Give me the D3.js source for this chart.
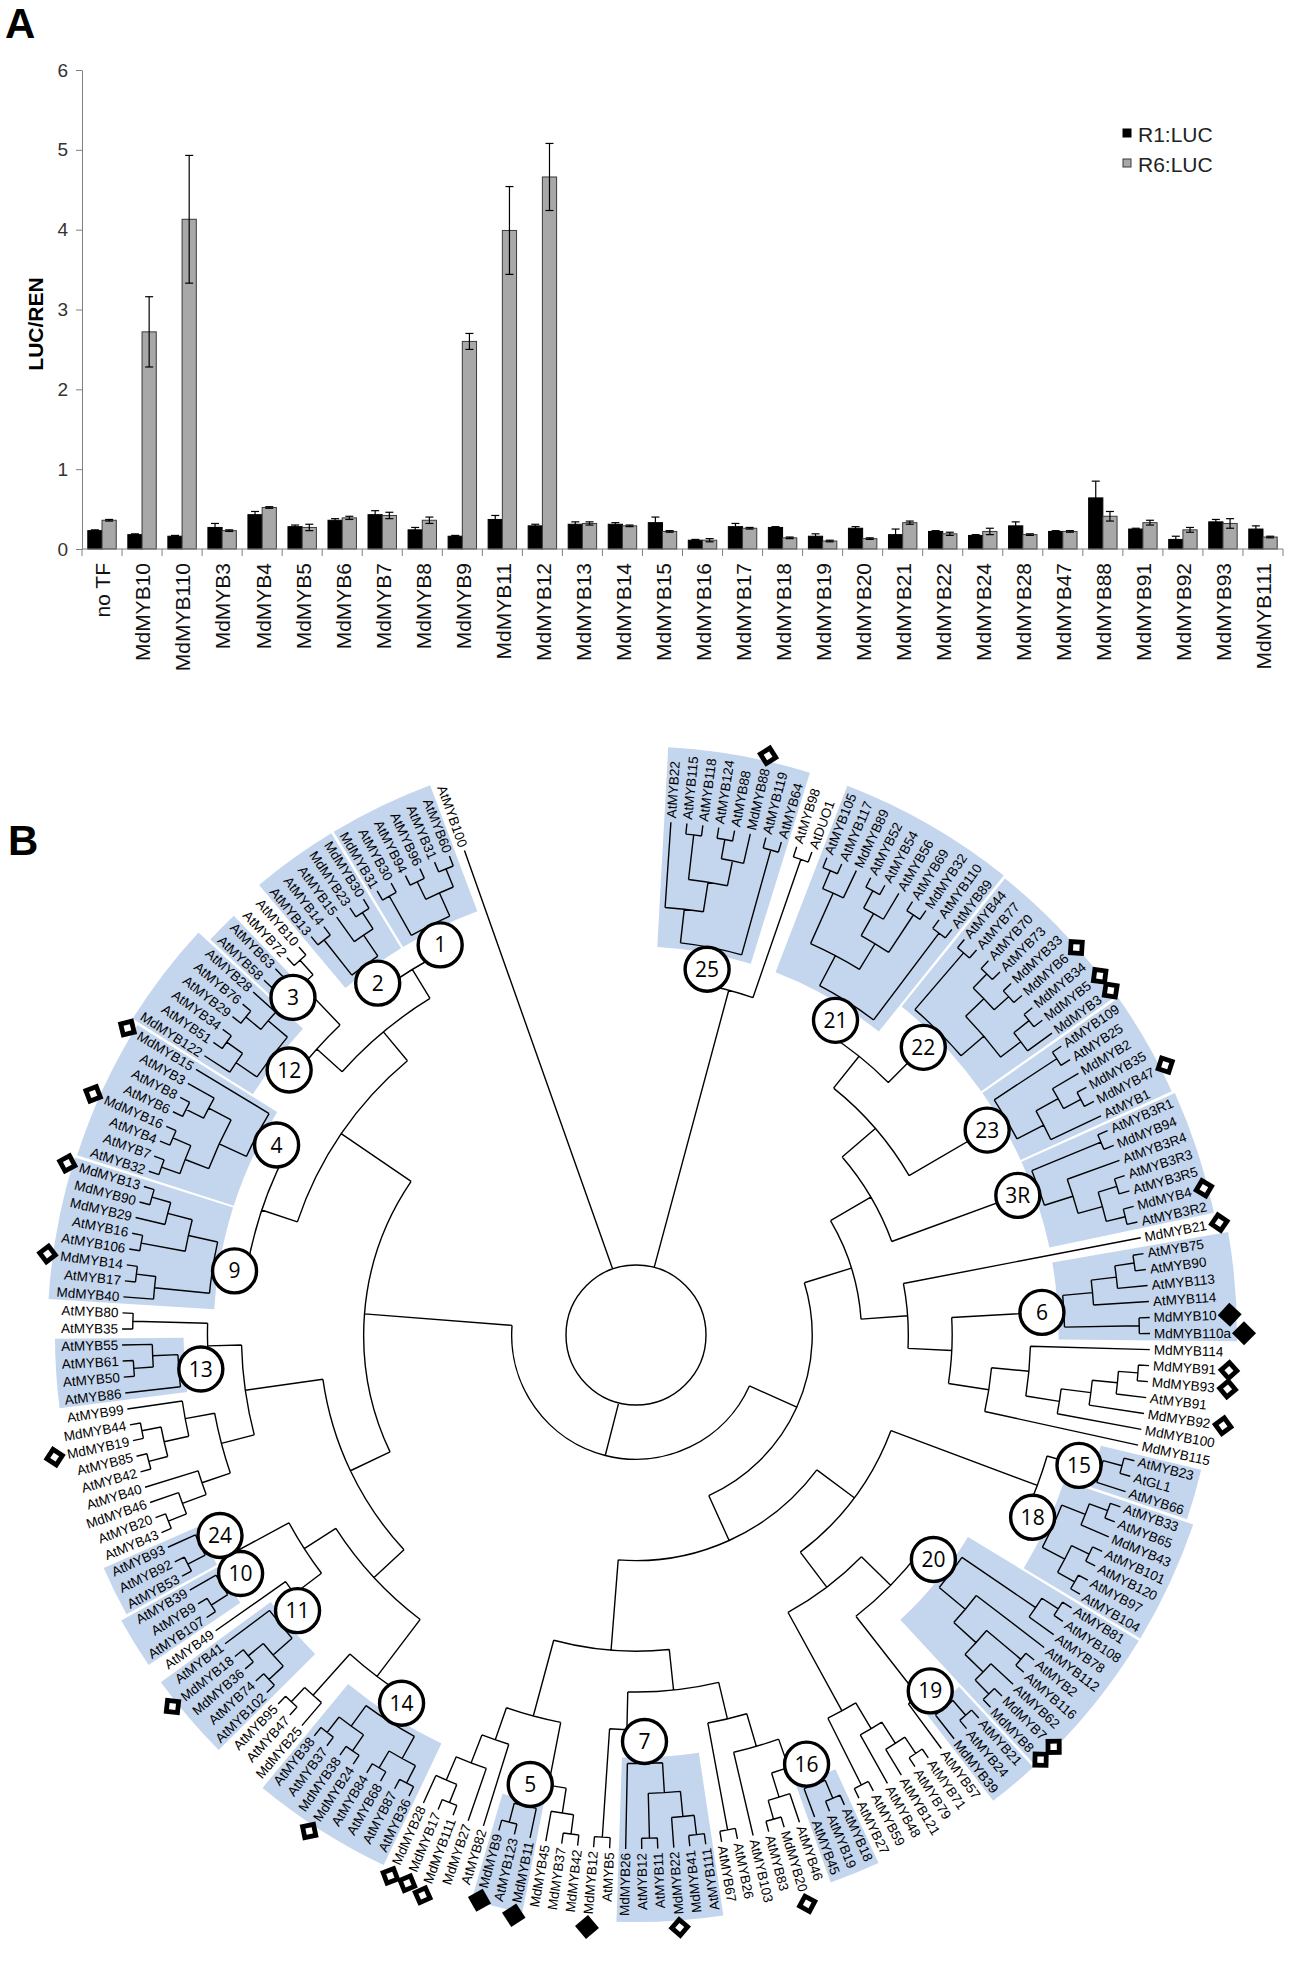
<!DOCTYPE html>
<html><head><meta charset="utf-8">
<script src="https://cdn.jsdelivr.net/npm/d3@7/dist/d3.min.js"></script>
<style>
body{margin:0;background:#fff;}
svg{display:block;font-family:"Liberation Sans",Arial,sans-serif;}
</style></head>
<body>
<svg id="fig" width="1293" height="1975"></svg>
<script>
// ---------------- Panel A data ----------------
const categories = ["no TF","MdMYB10","MdMYB110","MdMYB3","MdMYB4","MdMYB5","MdMYB6","MdMYB7","MdMYB8","MdMYB9","MdMYB11","MdMYB12","MdMYB13","MdMYB14","MdMYB15","MdMYB16","MdMYB17","MdMYB18","MdMYB19","MdMYB20","MdMYB21","MdMYB22","MdMYB24","MdMYB28","MdMYB47","MdMYB88","MdMYB91","MdMYB92","MdMYB93","MdMYB111"];
const r1Values = [0.23,0.18,0.16,0.27,0.43,0.28,0.36,0.43,0.24,0.16,0.37,0.29,0.31,0.31,0.33,0.11,0.28,0.27,0.16,0.26,0.18,0.22,0.17,0.29,0.22,0.64,0.25,0.12,0.34,0.25];
const r1Errors = [0.01,0.01,0.01,0.05,0.04,0.02,0.02,0.05,0.03,0.01,0.05,0.02,0.03,0.02,0.07,0.01,0.04,0.01,0.03,0.02,0.07,0.01,0.01,0.05,0.01,0.21,0.01,0.04,0.03,0.04];
const r6Values = [0.36,2.72,4.13,0.23,0.52,0.27,0.39,0.42,0.36,2.60,3.99,4.66,0.32,0.29,0.22,0.11,0.26,0.14,0.10,0.13,0.33,0.19,0.22,0.18,0.22,0.41,0.33,0.24,0.32,0.15];
const r6Errors = [0.01,0.44,0.80,0.01,0.01,0.04,0.02,0.04,0.04,0.10,0.55,0.42,0.02,0.01,0.01,0.02,0.01,0.01,0.01,0.01,0.02,0.02,0.04,0.01,0.01,0.06,0.03,0.03,0.06,0.01];
const seriesNames = ["R1:LUC","R6:LUC"];
const yTicks = [0,1,2,3,4,5,6];

// ---------------- Panel B data (tree topology, Newick) ----------------
const G25 = "((AtMYB22,((AtMYB115,AtMYB118),((AtMYB124,AtMYB88),MdMYB88))),(AtMYB119,AtMYB64))";
const PAIR98 = "(AtMYB98,AtDUO1)";
const G21 = "((((AtMYB105,AtMYB117),MdMYB89),(((AtMYB52,AtMYB54),AtMYB56),(AtMYB69,MdMYB32))),(AtMYB110,AtMYB89))";
const G22 = "((AtMYB44,AtMYB77),(((AtMYB70,AtMYB73),(MdMYB33,MdMYB6)),((MdMYB34,MdMYB5),MdMYB3)))";
const G23 = "((AtMYB109,AtMYB25),((MdMYB2,(MdMYB35,MdMYB47)),AtMYB1))";
const G3R = "((AtMYB3R1,MdMYB94),(AtMYB3R4,((AtMYB3R3,AtMYB3R5),(MdMYB4,AtMYB3R2))))";
const G6 = "((((AtMYB75,AtMYB90),AtMYB113),AtMYB114),(MdMYB10,MdMYB110a))";
const MD114 = "((MdMYB114,((((MdMYB91,MdMYB93),AtMYB91),MdMYB92),MdMYB100)),MdMYB115)";
const G15 = "((AtMYB23,AtGL1),AtMYB66)";
const G18 = "(((AtMYB33,AtMYB65),MdMYB43),((AtMYB101,AtMYB120),(AtMYB97,AtMYB104)))";
const G20 = "(((AtMYB81,AtMYB108),AtMYB78),(AtMYB112,((AtMYB2,AtMYB116),(AtMYB62,(MdMYB7,MdMYB8)))))";
const G19 = "((AtMYB21,AtMYB24),MdMYB39)";
const MISC71 = "((((AtMYB71,AtMYB79),AtMYB121),AtMYB48),(AtMYB59,AtMYB27))";
const G16 = "((AtMYB18,AtMYB19),AtMYB45)";
const MISC46 = "(AtMYB46,(MdMYB20,AtMYB83))";
const PAIR26 = "(AtMYB26,AtMYB67)";
const G7 = "((((AtMYB111,MdMYB41),MdMYB22),(AtMYB11,AtMYB12)),MdMYB26)";
const PAIR5 = "(AtMYB5,MdMYB12)";
const MISC42 = "((MdMYB42,MdMYB37),MdMYB45)";
const G5 = "(MdMYB11,(AtMYB123,MdMYB9))";
const MISC82 = "(AtMYB82,(MdMYB27,((MdMYB111,MdMYB17),MdMYB28)))";
const G14 = "(((AtMYB36,AtMYB87),(AtMYB68,AtMYB84)),((MdMYB24,MdMYB38),(AtMYB37,AtMYB38)))";
const MISC25 = "(MdMYB25,(AtMYB47,AtMYB95))";
const G11 = "(((AtMYB102,AtMYB74),(MdMYB36,MdMYB18)),AtMYB41)";
const G10 = "((AtMYB107,AtMYB9),AtMYB39)";
const G24 = "((AtMYB53,AtMYB92),AtMYB93)";
const MISC43 = "((((AtMYB43,AtMYB20),MdMYB46),AtMYB40),(((AtMYB42,AtMYB85),(MdMYB19,MdMYB44)),AtMYB99))";
const G13 = "(AtMYB86,((AtMYB50,AtMYB61),AtMYB55))";
const MISC80 = "(AtMYB35,AtMYB80)";
const G9 = "((MdMYB40,(AtMYB17,MdMYB14)),((AtMYB106,AtMYB16),(MdMYB29,(MdMYB90,MdMYB13))))";
const G4 = "((((AtMYB32,AtMYB7),(AtMYB4,MdMYB16)),((AtMYB6,AtMYB8),AtMYB3)),MdMYB15)";
const G12 = "((MdMYB122,(AtMYB51,AtMYB34)),((AtMYB29,AtMYB76),AtMYB28))";
const G3 = "(AtMYB58,AtMYB63)";
const MISC72 = "(AtMYB72,AtMYB10)";
const G2 = "((AtMYB13,AtMYB14),(AtMYB15,(MdMYB23,MdMYB30)))";
const G1 = "((MdMYB31,AtMYB30),((AtMYB94,AtMYB96),(AtMYB31,AtMYB60)))";

// markers: tested apple MYBs (filled = activators)
const filledMarkers = ["MdMYB10","MdMYB110a","MdMYB9","MdMYB11","MdMYB12"];
const openMarkers = ["MdMYB88","MdMYB6","MdMYB5","MdMYB3","MdMYB47","MdMYB4","MdMYB21","MdMYB91","MdMYB93","MdMYB92","MdMYB7","MdMYB8","MdMYB20","MdMYB22","MdMYB28","MdMYB17","MdMYB111","MdMYB24","MdMYB18","MdMYB19","MdMYB14","MdMYB13","MdMYB16","MdMYB15"];

// ---------------- assemble tree ----------------
const tag = (s, id) => s + "c" + id;
const TOPGRP = `(${tag(G25,"25")},${PAIR98})`;
const NE = `(((${tag(G21,"21")},${tag(G22,"22")}),${tag(G23,"23")}),${tag(G3R,"3R")})`;
const E = `(MdMYB21,(${tag(G6,"6")},${MD114}))`;
const SE = `((${tag(G15,"15")},${tag(G18,"18")}),((${tag(G20,"20")},(${tag(G19,"19")},AtMYB57)),${MISC71}))`;
const S1 = `((((${tag(G16,"16")},${MISC46}),AtMYB103),${PAIR26}),(${tag(G7,"7")},${PAIR5}))`;
const S2 = `((${MISC42},${tag(G5,"5")}),${MISC82})`;
const SW = `((${tag(G14,"14")},${MISC25}),((${tag(G11,"11")},AtMYB49),(${tag(G10,"10")},${tag(G24,"24")})))`;
const W = `(${MISC43},(${tag(G13,"13")},${MISC80}))`;
const NW = `((${tag(G9,"9")},${tag(G4,"4")}),((${tag(G12,"12")},(${tag(G3,"3")},${MISC72})),(${tag(G2,"2")},${tag(G1,"1")})))`;
const REST = `(((${NE},${E}),(${SE},(${S1},${S2}))),((${SW},${W}),${NW}))`;
const TREE = `(${TOPGRP},${REST},AtMYB100)`;

function parseNewick(s){
  let i = 0;
  function node(){
    const n = {};
    if (s[i] === "("){
      n.children = [];
      i++;
      while (true){
        n.children.push(node());
        if (s[i] === ","){ i++; continue; }
        i++; break;
      }
    }
    let name = "";
    while (i < s.length && !",()".includes(s[i])) name += s[i++];
    n.name = name;
    return n;
  }
  return node();
}

const svg = d3.select("#fig");

// ================= PANEL A =================
const font = '"Liberation Sans",Arial,sans-serif';
svg.append("text").attr("x",5).attr("y",38).attr("font-size",42).attr("font-weight","bold").text("A");

const x0 = d3.scaleBand().domain(categories).range([82,1283]).paddingInner(0.29).paddingOuter(0.145);
const x1 = d3.scaleBand().domain(seriesNames).range([0, x0.bandwidth()]);
const y = d3.scaleLinear().domain([0,6]).range([549,70]);
const colors = {"R1:LUC":"#000000","R6:LUC":"#a8a8a8"};

const gA = svg.append("g");
const yAxis = d3.axisLeft(y).tickValues(yTicks).tickFormat(d3.format("d")).tickSize(6).tickSizeOuter(0).tickPadding(8);
const ya = gA.append("g").attr("transform","translate(82,0)").call(yAxis);
ya.select(".domain").attr("stroke","#808080");
ya.selectAll(".tick line").attr("stroke","#808080");
ya.selectAll(".tick text").attr("font-size",19).attr("fill","#333").attr("font-family",font);

const groups = gA.selectAll("g.grp").data(categories).join("g").attr("class","grp")
  .attr("transform", d => `translate(${x0(d)},0)`);
groups.each(function(c, i){
  const g = d3.select(this);
  const vals = [[seriesNames[0], r1Values[i], r1Errors[i]],[seriesNames[1], r6Values[i], r6Errors[i]]];
  vals.forEach(([s, v, e]) => {
    g.append("rect").attr("x", x1(s)).attr("y", y(v)).attr("width", x1.bandwidth()).attr("height", y(0)-y(v))
      .attr("fill", colors[s]).attr("stroke", s==="R6:LUC" ? "#3a3a3a" : "#000").attr("stroke-width",1);
    const cx = x1(s) + x1.bandwidth()/2;
    g.append("line").attr("x1",cx).attr("x2",cx).attr("y1",y(v+e)).attr("y2",y(Math.max(0,v-e))).attr("stroke","#000").attr("stroke-width",1.2);
    [v+e, Math.max(0,v-e)].forEach(t => g.append("line").attr("x1",cx-4).attr("x2",cx+4).attr("y1",y(t)).attr("y2",y(t)).attr("stroke","#000").attr("stroke-width",1.2));
  });
});
// x axis
gA.append("line").attr("x1",82).attr("x2",1283).attr("y1",y(0)).attr("y2",y(0)).attr("stroke","#808080");
d3.range(categories.length+1).forEach(k => {
  const xx = x0.range()[0] + k*x0.step();
  gA.append("line").attr("x1",xx).attr("x2",xx).attr("y1",y(0)).attr("y2",y(0)+7).attr("stroke","#808080");
});
gA.selectAll("text.xl").data(categories).join("text").attr("class","xl")
  .attr("transform", d => `translate(${x0(d)+x0.bandwidth()/2+1},${y(0)+14}) rotate(-90)`)
  .attr("text-anchor","end").attr("dy","0.35em").attr("font-size",21).attr("fill","#111").text(d => d);
// y label
gA.append("text").attr("transform","translate(43,324) rotate(-90)").attr("text-anchor","middle")
  .attr("font-size",21).attr("font-weight","bold").text("LUC/REN");
// legend
seriesNames.forEach((s, k) => {
  gA.append("rect").attr("x",1123).attr("y",129 + k*30).attr("width",8).attr("height",8)
    .attr("fill",colors[s]).attr("stroke", k ? "#3a3a3a" : "#000");
  gA.append("text").attr("x",1138).attr("y",142 + k*30).attr("font-size",21).attr("fill","#222").text(s);
});

// ================= PANEL B =================
svg.append("text").attr("x",8).attr("y",855).attr("font-size",42).attr("font-weight","bold").text("B");

const CX = 636, CY = 1335, R_LEAF = 514, R_ROOT = 70;
const START = 3 * Math.PI/180, SPAN = 338.4 * Math.PI/180;

const root = d3.hierarchy(parseNewick(TREE));
d3.cluster().size([SPAN, 1]).separation(() => 1)(root);
const H = root.height;
const rScale = d3.scalePow().exponent(1.5).domain([0, H]).range([R_LEAF, R_ROOT]);
const ang = n => START + n.x;
const rad = n => rScale(n.height);
const px = (a, r) => [r*Math.sin(a), -r*Math.cos(a)];
const leaves = root.leaves();
const step = SPAN / (leaves.length - 1);

const gB = svg.append("g").attr("transform",`translate(${CX},${CY})`);
const shadeLayer = gB.append("g");
const lineLayer = gB.append("g");
const labelLayer = gB.append("g");
const circleLayer = gB.append("g");
const markerLayer = gB.append("g");

// branches
const p = d3.path();
root.each(n => {
  if (!n.children) return;
  const r = rad(n);
  if (n === root){
    p.moveTo(r, 0); p.arc(0, 0, r, 0, 2*Math.PI, false);
  } else {
    const a0 = ang(n.children[0]), a1 = ang(n.children[n.children.length-1]);
    const s0 = px(a0, r);
    p.moveTo(s0[0], s0[1]); p.arc(0, 0, r, a0 - Math.PI/2, a1 - Math.PI/2, false);
  }
  n.children.forEach(c => {
    const a = ang(c), q0 = px(a, r), q1 = px(a, rad(c));
    p.moveTo(q0[0], q0[1]); p.lineTo(q1[0], q1[1]);
  });
});
lineLayer.append("path").attr("d", p.toString()).attr("fill","none").attr("stroke","#000").attr("stroke-width",1.4);

// leaf labels
const FLIP = 171.5 * Math.PI/180;
const textLen = {};
labelLayer.selectAll("text").data(leaves).join("text")
  .attr("transform", d => {
    const deg = ang(d)*180/Math.PI - 90;
    return `rotate(${deg}) translate(${R_LEAF+4},0)` + (ang(d) > FLIP ? " rotate(180)" : "");
  })
  .attr("text-anchor", d => ang(d) > FLIP ? "end" : "start")
  .attr("dy","0.35em").attr("font-size",13.5).attr("fill","#000")
  .text(d => d.data.name)
  .each(function(d){ textLen[d.data.name] = this.getComputedTextLength(); });

// clade shading + numbered circles
const clades = root.descendants().filter(n => n.children && n.data.name.startsWith("c"));
const arcGen = d3.arc();
clades.forEach(n => {
  const lv = n.leaves();
  const maxLen = d3.max(lv, l => textLen[l.data.name]);
  shadeLayer.append("path").attr("d", arcGen({
    innerRadius: rad(n) - 6,
    outerRadius: R_LEAF + 4 + maxLen + 6,
    startAngle: ang(lv[0]) - step*0.42,
    endAngle: ang(lv[lv.length-1]) + step*0.42
  })).attr("fill","#c4d5ee");
  const c = px(ang(n), rad(n) - 22);
  const cg = circleLayer.append("g").attr("transform",`translate(${c[0]},${c[1]})`);
  cg.append("circle").attr("r",22).attr("fill","#fff").attr("stroke","#000").attr("stroke-width",3.4);
  cg.append("text").attr("text-anchor","middle").attr("dy","0.36em").attr("font-size",21)
    .attr("font-family",'"Open Sans",sans-serif').text(n.data.name.slice(1));
});

// markers
leaves.forEach(l => {
  const nm = l.data.name;
  const filled = filledMarkers.includes(nm), open = openMarkers.includes(nm);
  if (!filled && !open) return;
  const a = ang(l);
  const m = px(a, R_LEAF + 4 + textLen[nm] + 13);
  const g = markerLayer.append("g").attr("transform",`translate(${m[0]},${m[1]}) rotate(${a*180/Math.PI + 45})`);
  if (filled){
    g.append("rect").attr("x",-8.5).attr("y",-8.5).attr("width",17).attr("height",17).attr("fill","#000");
  } else {
    g.append("rect").attr("x",-8).attr("y",-8).attr("width",16).attr("height",16).attr("fill","#000");
    g.append("rect").attr("x",-3.2).attr("y",-3.2).attr("width",6.4).attr("height",6.4).attr("fill","#fff");
  }
});
</script>
</body></html>
